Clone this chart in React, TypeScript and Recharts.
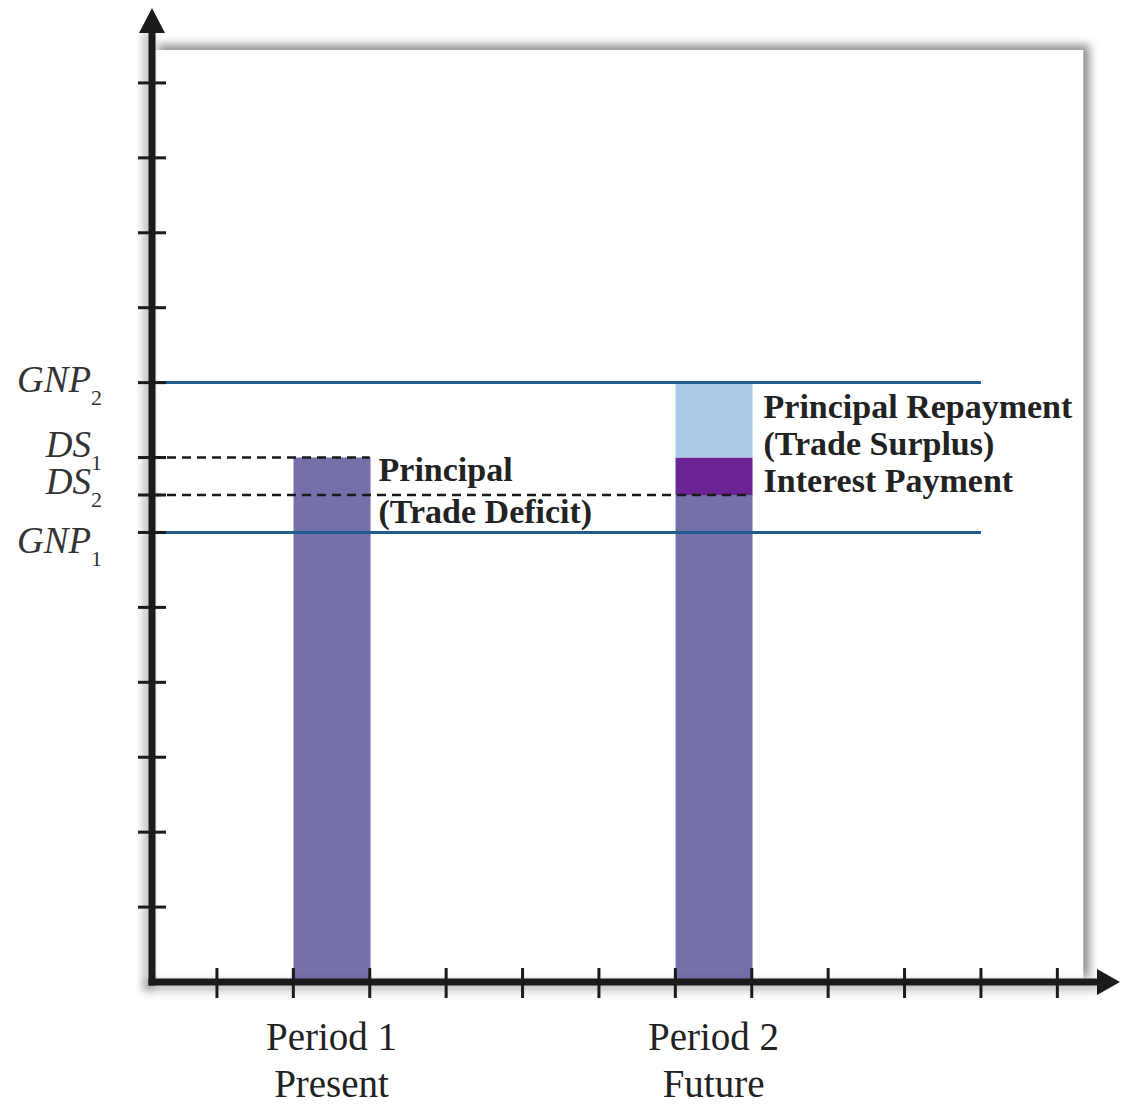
import React from 'react';
import {
  ComposedChart,
  Bar,
  XAxis,
  YAxis,
  ReferenceLine,
  ReferenceArea,
  ReferenceDot,
  LabelList,
} from 'recharts';

// ---------- data ----------
const periodX = [2.5, 7.5];
const periodLine1 = ['Period 1', 'Period 2'];
const periodLine2 = ['Present', 'Future'];
const baseValues = [7, 6.5];
const interestValues = [0, 0.5];
const repaymentValues = [0, 1];

const xTicks = [1, 2, 3, 4, 5, 6, 7, 8, 9, 10, 11, 12];
const yTicks = [1, 2, 3, 4, 5, 6, 6.5, 7, 8, 9, 10, 11, 12];

const GNP1 = 6;
const GNP2 = 8;
const DS1 = 7;
const DS2 = 6.5;

const yLabelValues = [GNP2, DS1, DS2, GNP1];
const yLabelMain = ['GNP', 'DS', 'DS', 'GNP'];
const yLabelSub = ['2', '1', '2', '1'];

const period1Notes = ['Principal', '(Trade Deficit)'];
const period2Notes = ['Principal Repayment', '(Trade Surplus)', 'Interest Payment'];

const X_DOMAIN: [number, number] = [0.15, 12.82];
const Y_DOMAIN: [number, number] = [0, 13];
const gnpLineEnd = 11;
const ds1End = 3;
const ds2End = 8;
const panelRight = 12.34;
const panelTop = 12.44;
const xAxisEnd = 12.56;
const yAxisEnd = 12.7;

const data = periodX.map((x, i) => ({
  x,
  base: baseValues[i],
  interest: interestValues[i],
  repayment: repaymentValues[i],
}));

// ---------- styles ----------
const SERIF = "'Liberation Serif', 'Times New Roman', 'DejaVu Serif', serif";
const AXIS = '#1b1b1b';
const SLATE = '#7471aa';
const PURPLE = '#6b2496';
const LIGHTBLUE = '#a9c9e6';
const GNPBLUE = '#1f5d8f';
// vertical nudge (px) of each y label's baseline relative to its tick
const yLabelNudge = [9, -1, -1, 21];

const XTick = (props: any) => {
  const { x, y, payload } = props;
  const v = payload.value;
  const idx = periodX.indexOf(v);
  if (idx >= 0) {
    return (
      <text x={x} y={y + 68} textAnchor="middle" fontFamily={SERIF} fontSize={39} fill="#222">
        <tspan x={x}>{periodLine1[idx]}</tspan>
        <tspan x={x} dy={47}>{periodLine2[idx]}</tspan>
      </text>
    );
  }
  return <line x1={x} x2={x} y1={y - 14} y2={y + 16} stroke={AXIS} strokeWidth={3} />;
};

const YTick = (props: any) => {
  const { x, y, payload } = props;
  const v = payload.value;
  const idx = yLabelValues.indexOf(v);
  return (
    <g>
      <line x1={x - 14} x2={x + 14} y1={y} y2={y} stroke={AXIS} strokeWidth={3} />
      {idx >= 0 && (
        <text
          x={x - 50}
          y={y + yLabelNudge[idx]}
          textAnchor="end"
          fontFamily={SERIF}
          fontStyle="italic"
          fontSize={37}
          fill="#333"
        >
          <tspan>{yLabelMain[idx]}</tspan>
          <tspan fontSize={22} fontStyle="normal" dy={13}>{yLabelSub[idx]}</tspan>
        </text>
      )}
    </g>
  );
};

const Notes1 = (props: any) => {
  const { x, y, width, index } = props;
  if (index !== 0) return null;
  const tx = Number(x) + Number(width) + 8;
  return (
    <text x={tx} y={Number(y) + 23} fontFamily={SERIF} fontWeight="bold" fontSize={34} fill="#222">
      {period1Notes.map((t, i) => (
        <tspan key={t} x={tx} dy={i === 0 ? 0 : 42}>{t}</tspan>
      ))}
    </text>
  );
};

const Notes2 = (props: any) => {
  const { x, y, width, height, value } = props;
  if (!(Math.abs(Number(height)) > 0.5) && !(Number(value) > 0)) return null;
  const tx = Number(x) + Number(width) + 11;
  return (
    <text x={tx} y={Number(y) + 35} fontFamily={SERIF} fontWeight="bold" fontSize={34} fill="#222">
      {period2Notes.map((t, i) => (
        <tspan key={t} x={tx} dy={i === 0 ? 0 : 37}>{t}</tspan>
      ))}
    </text>
  );
};

const Panel = (props: any) => (
  <rect
    x={props.x}
    y={props.y}
    width={props.width}
    height={props.height}
    fill="#ffffff"
    style={{ filter: 'drop-shadow(6px -5px 5px rgba(0,0,0,0.45))' }}
  />
);

const ArrowUp = (props: any) => {
  const { cx, cy } = props;
  return <polygon points={`${cx},${cy} ${cx - 13},${cy + 25} ${cx + 13},${cy + 25}`} fill={AXIS} />;
};

const ArrowRight = (props: any) => {
  const { cx, cy } = props;
  return <polygon points={`${cx},${cy} ${cx - 23},${cy - 13} ${cx - 23},${cy + 13}`} fill={AXIS} />;
};

const axisShadow = { filter: 'drop-shadow(-4px 4px 5px rgba(0,0,0,0.35))' };

export default function App() {
  return (
    <div style={{ position: 'absolute', left: 0, top: 0, background: '#fff' }}>
      <ComposedChart
        width={1123}
        height={1105}
        data={data}
        margin={{ top: 8, right: 3, bottom: 3, left: 92 }}
      >
        <XAxis
          xAxisId="bars"
          type="number"
          dataKey="x"
          domain={X_DOMAIN}
          allowDataOverflow
          ticks={periodX}
          orientation="top"
          height={0}
          hide
        />
        <XAxis
          xAxisId="x"
          type="number"
          dataKey="x"
          domain={X_DOMAIN}
          allowDataOverflow
          ticks={[...xTicks, ...periodX]}
          interval={0}
          tickSize={0}
          tickMargin={0}
          tickLine={false}
          axisLine={false}
          tick={<XTick />}
          height={120}
        />
        <YAxis
          type="number"
          domain={Y_DOMAIN}
          allowDataOverflow
          ticks={yTicks}
          interval={0}
          tickSize={0}
          tickMargin={0}
          tickLine={false}
          axisLine={false}
          tick={<YTick />}
          width={60}
        />

        <ReferenceArea
          xAxisId="x"
          x1={X_DOMAIN[0]}
          x2={panelRight}
          y1={Y_DOMAIN[0]}
          y2={panelTop}
          ifOverflow="visible"
          shape={<Panel />}
        />

        <ReferenceLine
          xAxisId="x"
          segment={[{ x: X_DOMAIN[0], y: GNP2 }, { x: gnpLineEnd, y: GNP2 }]}
          stroke={GNPBLUE}
          strokeWidth={3}
          ifOverflow="visible"
        />
        <ReferenceLine
          xAxisId="x"
          segment={[{ x: X_DOMAIN[0], y: GNP1 }, { x: gnpLineEnd, y: GNP1 }]}
          stroke={GNPBLUE}
          strokeWidth={3}
          ifOverflow="visible"
        />

        <Bar xAxisId="bars" dataKey="base" stackId="s" fill={SLATE} barSize={77} isAnimationActive={false}>
          <LabelList dataKey="base" content={<Notes1 />} />
        </Bar>
        <Bar xAxisId="bars" dataKey="interest" stackId="s" fill={PURPLE} barSize={77} isAnimationActive={false} />
        <Bar xAxisId="bars" dataKey="repayment" stackId="s" fill={LIGHTBLUE} barSize={77} isAnimationActive={false}>
          <LabelList dataKey="repayment" content={<Notes2 />} />
        </Bar>

        <ReferenceLine
          xAxisId="x"
          segment={[{ x: X_DOMAIN[0], y: DS1 }, { x: ds1End, y: DS1 }]}
          stroke="#1a1a1a"
          strokeWidth={2.5}
          strokeDasharray="9 6"
          ifOverflow="visible"
        />
        <ReferenceLine
          xAxisId="x"
          segment={[{ x: X_DOMAIN[0], y: DS2 }, { x: ds2End, y: DS2 }]}
          stroke="#1a1a1a"
          strokeWidth={2.5}
          strokeDasharray="9 6"
          ifOverflow="visible"
        />

        <ReferenceLine
          xAxisId="x"
          segment={[{ x: X_DOMAIN[0], y: Y_DOMAIN[0] }, { x: X_DOMAIN[0], y: yAxisEnd }]}
          stroke={AXIS}
          strokeWidth={7}
          strokeLinecap="square"
          style={axisShadow}
          ifOverflow="visible"
        />
        <ReferenceLine
          xAxisId="x"
          segment={[{ x: X_DOMAIN[0], y: Y_DOMAIN[0] }, { x: xAxisEnd, y: Y_DOMAIN[0] }]}
          stroke={AXIS}
          strokeWidth={7}
          strokeLinecap="square"
          style={axisShadow}
          ifOverflow="visible"
        />
        <ReferenceDot xAxisId="x" x={X_DOMAIN[0]} y={Y_DOMAIN[1]} r={1} ifOverflow="visible" shape={<ArrowUp />} />
        <ReferenceDot xAxisId="x" x={X_DOMAIN[1]} y={Y_DOMAIN[0]} r={1} ifOverflow="visible" shape={<ArrowRight />} />
      </ComposedChart>
    </div>
  );
}
